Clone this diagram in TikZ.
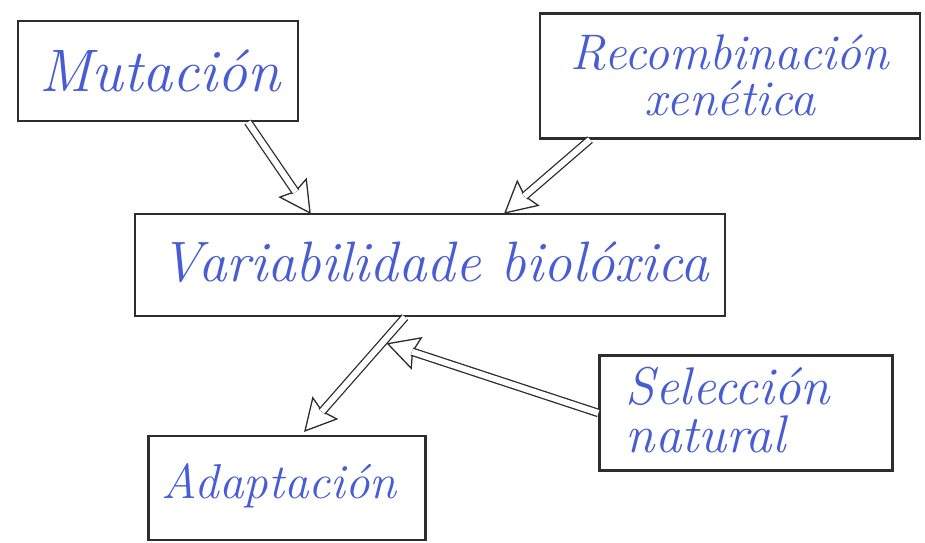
\documentclass[tikz,border=0pt]{standalone}
\usetikzlibrary{calc}
\definecolor{handblue}{RGB}{72,92,212}
\definecolor{inkgray}{RGB}{45,45,45}
\tikzset{
  box/.style={draw=inkgray, line width=2.2pt, rectangle, inner sep=0pt},
  handtext/.style={text=handblue, inner sep=0pt},
  shaft/.style={draw=inkgray, line width=1.3pt, double=white, double distance=6pt},
  arrowhead/.style={draw=inkgray, line width=1.3pt, line join=miter}
}
% hollow hand-drawn arrow from coordinate #1 to coordinate #2
\newcommand\hollowarrow[2]{%
  \coordinate (hb) at ($(#2)!30pt!(#1)$);
  \coordinate (hi) at ($(#2)!26pt!(#1)$);
  \coordinate (hs) at ($(#2)!25.5pt!(#1)$);
  \draw[arrowhead] ($(hb)!16pt!90:(#2)$) -- (#2) -- ($(hb)!16pt!-90:(#2)$) -- (hi) -- cycle;
  \draw[shaft] (#1) -- (hs);
}
\begin{document}
\begin{tikzpicture}[x=1pt,y=-1pt]
\useasboundingbox[fill=white] (0,0) rectangle (925,542);
\node[box, minimum width=280pt, minimum height=100pt] (mut) at (158,71) {};
\node[handtext, font=\fontsize{60}{46}\selectfont\itshape] (mutt) at ([xshift=2pt]mut.center) {Mutación};
\node[box, minimum width=380pt, minimum height=125pt] (rec) at (730,76) {};
\node[handtext, font=\fontsize{50}{46}\selectfont\itshape, align=center] (rect) at ([yshift=1pt]rec.center) {Recombinación\\xenética};
\node[box, minimum width=590pt, minimum height=102pt] (var) at (430,265) {};
\node[handtext, font=\fontsize{57}{46}\selectfont\itshape] (vart) at ([xshift=5pt, yshift=3pt]var.center) {Variabilidade biolóxica};
\node[box, minimum width=293pt, minimum height=115pt] (sel) at (746,413) {};
\node[handtext, font=\fontsize{53}{48}\selectfont\itshape, align=left] (selt) at ([xshift=-18pt, yshift=3pt]sel.center) {Selección\\natural};
\node[box, minimum width=277pt, minimum height=104pt] (ada) at (287,488) {};
\node[handtext, font=\fontsize{49}{46}\selectfont\itshape] (adat) at ([xshift=-8pt, yshift=2pt]ada.center) {Adaptación};
\coordinate (a1s) at ([xshift=90pt]mut.south);
\coordinate (a1e) at ([xshift=-120pt]var.north);
\coordinate (a2s) at ([xshift=-140pt]rec.south);
\coordinate (a2e) at ([xshift=75pt]var.north);
\coordinate (a3s) at ([xshift=-25pt]var.south);
\coordinate (a3e) at ([xshift=18pt, yshift=4pt]ada.north);
\coordinate (mid) at ($(a3s)!0.22!(a3e)$);
\coordinate (mida) at ($(mid)!5pt!(sel.west)$);
\hollowarrow{a1s}{a1e}
\hollowarrow{a2s}{a2e}
\hollowarrow{a3s}{a3e}
\hollowarrow{sel.west}{mida}
\end{tikzpicture}
\end{document}
